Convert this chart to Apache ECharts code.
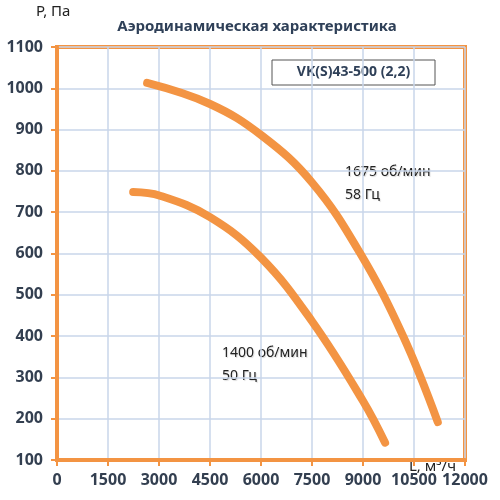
<!DOCTYPE html>
<html><head><meta charset="utf-8">
<script src="https://cdn.jsdelivr.net/npm/echarts@6/dist/echarts.min.js"></script>
<style>html,body{margin:0;padding:0;background:#fff}#c{width:500px;height:500px}</style>
</head><body><div id="c"></div>
<script>
const xTicks = [0,1500,3000,4500,6000,7500,9000,10500,12000];
const yTicks = [100,200,300,400,500,600,700,800,900,1000,1100];
const curve1675 = [[2650,1013],[4500,962],[6030,885],[7500,772],[8900,603],[10180,400],[11200,192]];
const curve1400 = [[2240,749],[3030,740],[4500,688],[6000,590],[7500,436],[9000,243],[9650,142]];
const title = 'Аэродинамическая характеристика';
const model = 'VK(S)43-500 (2,2)';
const label1675 = ['1675 об/мин','58 Гц'];
const label1400 = ['1400 об/мин','50 Гц'];

const orange = '#f39443';
const txt = '#333f50';
const ff = 'Noto Sans';
const chart = echarts.init(document.getElementById('c'));
chart.setOption({
  animation:false,
  backgroundColor:'#fff',
  textStyle:{fontFamily:ff},
  grid:{left:57,right:35,top:47,bottom:40,show:true,borderColor:orange,borderWidth:4,backgroundColor:'transparent'},
  xAxis:{type:'value',min:xTicks[0],max:xTicks[xTicks.length-1],interval:1500,
    axisLine:{show:true,lineStyle:{color:orange,width:4}},
    axisTick:{show:true,length:6,lineStyle:{color:orange,width:2}},
    splitLine:{show:true,lineStyle:{color:'#c9d6ea',width:1.5}},
    axisLabel:{color:txt,fontWeight:'bold',fontSize:16,fontFamily:ff,margin:12,formatter:v=>String(v)}},
  yAxis:{type:'value',min:yTicks[0],max:yTicks[yTicks.length-1],interval:100,
    axisLine:{show:true,lineStyle:{color:orange,width:4}},
    axisTick:{show:true,length:6,lineStyle:{color:orange,width:2}},
    splitLine:{show:true,lineStyle:{color:'#c9d6ea',width:1.5}},
    axisLabel:{color:txt,fontWeight:'bold',fontSize:16,fontFamily:ff,margin:14,formatter:v=>String(v)}},
  series:[
    {type:'line',data:curve1675,smooth:0.4,showSymbol:false,lineStyle:{color:orange,width:8,cap:'round'}},
    {type:'line',data:curve1400,smooth:0.4,showSymbol:false,lineStyle:{color:orange,width:8,cap:'round'}}
  ],
  graphic:[
    {type:'text',x:257,y:27,style:{text:title,font:'bold 15px "Noto Sans"',fill:'#2f4058',align:'center',verticalAlign:'middle'}},
    {type:'text',left:36,top:4,style:{text:'P, Па',font:'15px "Noto Sans"',fill:'#222'}},
    {type:'text',left:409,top:459,style:{text:'L, м³/ч',font:'15px "Noto Sans"',fill:'#222'}},
    {type:'rect',shape:{x:272,y:60,width:163,height:25},style:{fill:'#fff',stroke:'#555',lineWidth:1}},
    {type:'text',x:353.5,y:72.5,style:{text:model,font:'bold 14px "Noto Sans"',fill:'#2f4058',align:'center',verticalAlign:'middle'}},
    {type:'text',left:345,top:161,style:{text:label1675.join('\n'),font:'14px "Noto Sans"',lineHeight:23,fill:'#222',textShadowColor:'rgba(0,0,0,0.15)',textShadowBlur:1,textShadowOffsetX:1,textShadowOffsetY:1}},
    {type:'text',left:222,top:342,style:{text:label1400.join('\n'),font:'14px "Noto Sans"',lineHeight:23,fill:'#222',textShadowColor:'rgba(0,0,0,0.15)',textShadowBlur:1,textShadowOffsetX:1,textShadowOffsetY:1}}
  ]
});
</script></body></html>
